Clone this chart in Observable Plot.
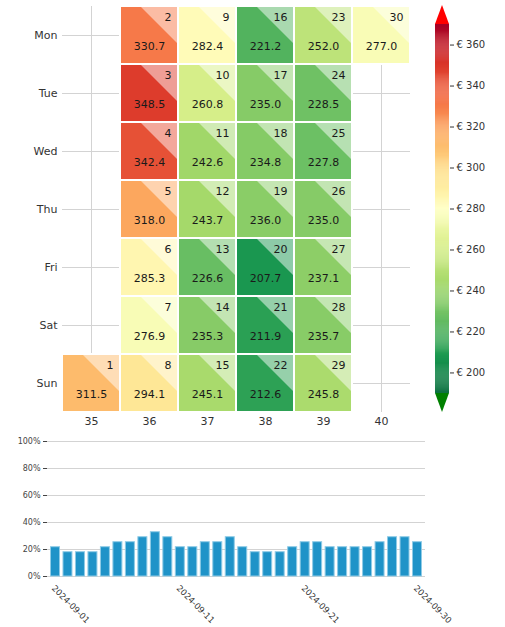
<!DOCTYPE html>
<html><head><meta charset="utf-8">
<script src="https://cdn.jsdelivr.net/npm/d3@7"></script>
<script src="https://cdn.jsdelivr.net/npm/@observablehq/plot@0.6"></script>
<style>
body{margin:0;background:#fff;font-family:"DejaVu Sans",sans-serif;}
#wrap{position:relative;width:505px;height:627px;overflow:hidden;background:#fff;}
#wrap > svg{position:absolute;max-width:none;background:transparent;}
</style></head><body><div id="wrap"></div>
<script>
// ---- data ----
const days = ["Mon","Tue","Wed","Thu","Fri","Sat","Sun"];
const weeks = [35,36,37,38,39,40];
const dayStrings = ["2024-09-01","2024-09-02","2024-09-03","2024-09-04","2024-09-05","2024-09-06","2024-09-07",
  "2024-09-08","2024-09-09","2024-09-10","2024-09-11","2024-09-12","2024-09-13","2024-09-14","2024-09-15",
  "2024-09-16","2024-09-17","2024-09-18","2024-09-19","2024-09-20","2024-09-21","2024-09-22","2024-09-23",
  "2024-09-24","2024-09-25","2024-09-26","2024-09-27","2024-09-28","2024-09-29","2024-09-30"];
const prices = [311.5,330.7,348.5,342.4,318.0,285.3,276.9,294.1,282.4,260.8,242.6,243.7,226.6,235.3,245.1,
  221.2,235.0,234.8,236.0,207.7,211.9,212.6,252.0,228.5,227.8,235.0,237.1,235.7,245.8,277.0];
const shares = [21.7,18.0,18.0,18.0,21.7,25.4,25.4,29.1,32.8,29.1,21.7,21.7,25.4,25.4,29.1,
  21.7,18.0,18.0,18.0,21.7,25.4,25.4,21.7,21.7,21.7,21.7,25.4,29.1,29.1,25.4];
const colorTicks = [200,220,240,260,280,300,320,340,360];
const colorMin = 190, colorMax = 370, arrowLen = 9.3;
const shareTicks = [0,20,40,60,80,100];
const dateTicks = ["2024-09-01","2024-09-11","2024-09-21","2024-09-30"];

// ---- derived tables ----
const isoWeek = d3.utcFormat("%V");
const cells = dayStrings.map((s, i) => {
  const d = new Date(s + "T00:00:00Z");
  return {day: d.getUTCDate(), week: +isoWeek(d), row: (d.getUTCDay() + 6) % 7 + 1, price: prices[i]};
});
const T = 0.655;
const tri = cells.flatMap(c => [
  {id: c.day, x: c.week + 0.5 - T, y1: c.row - 0.5, y2: c.row - 0.5},
  {id: c.day, x: c.week + 0.5, y1: c.row - 0.5, y2: c.row - 0.5 + T}
]);
const scheme = [...d3.schemeRdYlGn[11]].reverse();
const colorOpts = {type: "linear", domain: d3.range(11).map(i => colorMin + (colorMax - colorMin) * i / 10), range: scheme, interpolate: "rgb", clamp: true};
const bars = dayStrings.map((s, i) => ({date: s, share: shares[i]}));

const wrap = document.getElementById("wrap");
const font = {fontFamily: "DejaVu Sans, sans-serif", background: "transparent"};

// ---- heatmap ----
const heat = Plot.plot({
  width: 420, height: 430, marginLeft: 62, marginRight: 10, marginTop: 6, marginBottom: 18,
  x: {type: "linear", domain: [34.5, 40.5]},
  y: {type: "linear", domain: [0.5, 7.5], reverse: true},
  color: colorOpts,
  style: {...font, color: "#333"},
  marks: [
    Plot.gridX(weeks, {stroke: "#d3d3d3", strokeOpacity: 1}),
    Plot.gridY([1,2,3,4,5,6,7], {stroke: "#d3d3d3", strokeOpacity: 1}),
    Plot.rect(cells, {x1: d => d.week - 0.5, x2: d => d.week + 0.5, y1: d => d.row - 0.5, y2: d => d.row + 0.5, fill: "price"}),
    Plot.areaY(tri, {x: "x", y1: "y1", y2: "y2", z: "id", fill: "white", fillOpacity: 0.5}),
    Plot.rect(cells, {x1: d => d.week - 0.5, x2: d => d.week + 0.5, y1: d => d.row - 0.5, y2: d => d.row + 0.5, fill: "none", stroke: "white", strokeWidth: 2}),
    Plot.text(cells, {x: d => d.week + 0.5, y: d => d.row - 0.5, text: "day", textAnchor: "end", dx: -7, dy: 10.5, fontSize: 11, fill: "#1a1a1a"}),
    Plot.text(cells, {x: "week", y: "row", text: d => d.price.toFixed(1), dy: 11, fontSize: 11, fill: "#1a1a1a"}),
    Plot.axisX(weeks, {tickSize: 0, tickPadding: 5, label: null, fontSize: 11}),
    Plot.axisY([1,2,3,4,5,6,7], {tickSize: 0, tickPadding: 5, tickFormat: i => days[i - 1], label: null, fontSize: 11})
  ]
});
heat.style.left = "0px"; heat.style.top = "0px";
wrap.appendChild(heat);

// ---- colorbar ----
const slices = d3.range(colorMin, colorMax, 0.5);
const arrowTop = [
  {x: 0, y1: colorMax, y2: colorMax}, {x: 0.5, y1: colorMax, y2: colorMax + arrowLen}, {x: 1, y1: colorMax, y2: colorMax}];
const arrowBot = [
  {x: 0, y1: colorMin, y2: colorMin}, {x: 0.5, y1: colorMin, y2: colorMin - arrowLen}, {x: 1, y1: colorMin, y2: colorMin}];
const cbar = Plot.plot({
  width: 85, height: 420, marginLeft: 15, marginRight: 56, marginTop: 5, marginBottom: 8,
  x: {type: "linear", domain: [0, 1], axis: null},
  y: {type: "linear", domain: [colorMin - arrowLen, colorMax + arrowLen]},
  color: colorOpts,
  style: {...font, color: "#333"},
  marks: [
    Plot.rect(slices, {x1: 0, x2: 1, y1: d => d, y2: d => d + 0.6, fill: d => d + 0.25}),
    Plot.areaY(arrowTop, {x: "x", y1: "y1", y2: "y2", fill: "#ff0000"}),
    Plot.areaY(arrowBot, {x: "x", y1: "y1", y2: "y2", fill: "#008000"}),
    Plot.axisY(colorTicks, {anchor: "right", tickSize: 4, tickPadding: 3, tickFormat: d => "€ " + d, fontSize: 10, label: null})
  ]
});
cbar.style.left = "420px"; cbar.style.top = "0px";
wrap.appendChild(cbar);

// ---- share bars ----
const barChart = Plot.plot({
  width: 505, height: 197, marginLeft: 47, marginRight: 80, marginTop: 11, marginBottom: 51,
  x: {type: "band", domain: dayStrings, padding: 0.28, round: false, axis: null},
  y: {type: "linear", domain: [0, 100]},
  style: {...font, color: "#444"},
  marks: [
    Plot.gridY(shareTicks, {stroke: "#d3d3d3", strokeOpacity: 1}),
    Plot.barY(bars, {x: "date", y: "share", fill: "#1f93c8", stroke: "#8fcbe6", strokeWidth: 1}),
    Plot.axisY(shareTicks, {tickSize: 4, tickPadding: 3, tickFormat: d => d + "%", fontSize: 8, label: null}),
    Plot.text(dateTicks, {x: d => d, frameAnchor: "bottom", dy: 8, rotate: 45, textAnchor: "start", lineAnchor: "top", fontSize: 8.5, fill: "#333"})
  ]
});
barChart.style.left = "0px"; barChart.style.top = "430px";
wrap.appendChild(barChart);
</script></body></html>
